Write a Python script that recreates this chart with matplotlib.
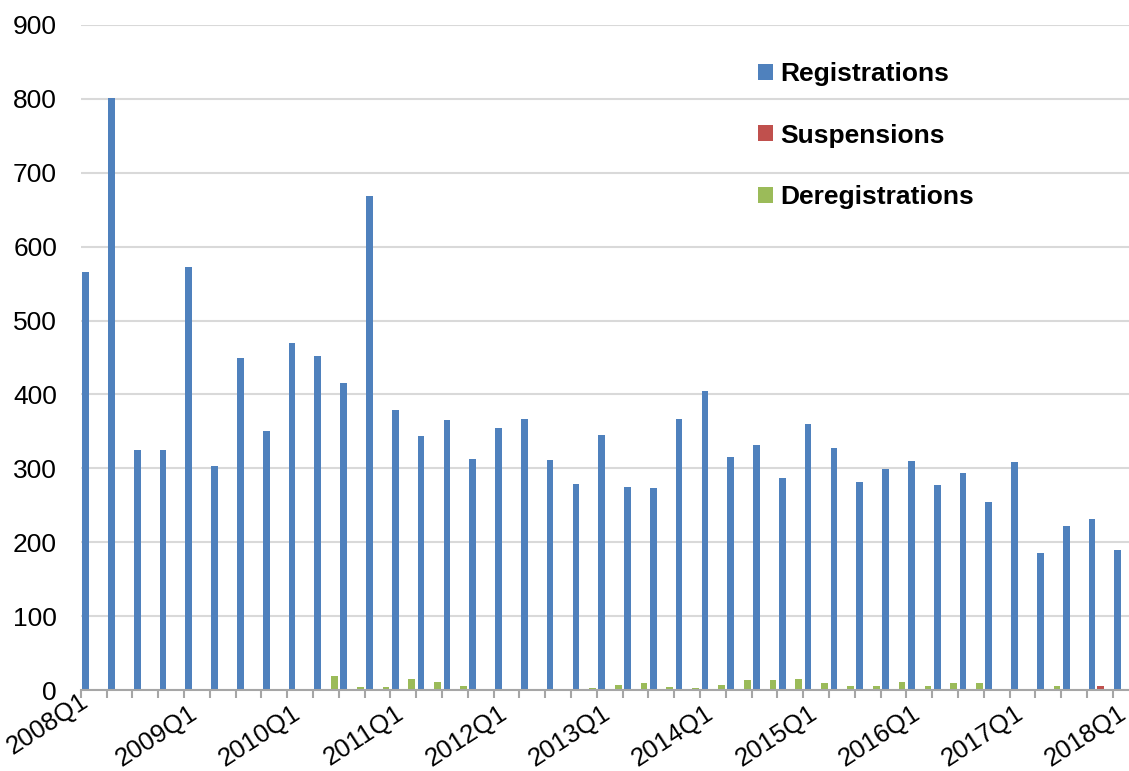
import numpy as np
import matplotlib
matplotlib.use("Agg")
import matplotlib.pyplot as plt
from matplotlib.transforms import ScaledTranslation

plt.rcParams['font.family'] = ['Liberation Sans', 'DejaVu Sans']

quarters = [f"{y}Q{q}" for y in range(2008, 2019) for q in range(1, 5)][:41]

registrations = [566, 801, 325, 325, 573, 303, 450, 351, 470, 452, 415, 669,
                 379, 344, 366, 313, 354, 367, 311, 279, 345, 275, 274, 367,
                 404, 316, 332, 287, 360, 328, 281, 299, 310, 278, 294, 255,
                 308, 185, 222, 232, 190]
suspensions = [0, 0, 0, 0, 0, 0, 0, 0, 0, 0, 2, 0,
               0, 1, 0, 0, 1, 1, 0, 1, 1, 1, 0, 1,
               0, 1, 0, 2, 1, 0, 2, 1, 0, 1, 0, 0,
               1, 0, 0, 5, 0]
deregistrations = [0, 0, 0, 0, 0, 0, 0, 0, 1, 19, 4, 4,
                   15, 11, 5, 0, 2, 0, 2, 3, 7, 9, 4, 3,
                   7, 13, 14, 15, 10, 5, 5, 11, 5, 10, 10, 0,
                   1, 5, 1, 0, 0]

series = [("Registrations", registrations, "#4F81BD"),
          ("Suspensions", suspensions, "#C0504D"),
          ("Deregistrations", deregistrations, "#9BBB59")]

fig = plt.figure(figsize=(11.29, 7.71), dpi=100)
# plot area runs past the right edge like the cropped original
ax = fig.add_axes([80.7 / 1129, 81 / 771, 1058 / 1129, 665 / 771])

x = np.arange(len(quarters))
w = 0.26
offsets = [0.19, 0.51, 0.83]
for (name, vals, col), off in zip(series, offsets):
    ax.bar(x + off, vals, width=w, color=col, label=name, zorder=3)

ax.set_xlim(0, len(quarters))
ax.set_ylim(0, 900)
ax.set_yticks(range(0, 1000, 100))
ax.yaxis.grid(True, color="#D9D9D9", linewidth=1.5, zorder=0)
ax.tick_params(axis="y", length=0, pad=17, labelsize=19)

for s in ["top", "right", "left"]:
    ax.spines[s].set_visible(False)
ax.spines["bottom"].set_color("#A6A6A6")
ax.spines["bottom"].set_linewidth(1.5)
ax.spines["bottom"].set_zorder(4)

ax.set_xticks(np.arange(len(quarters) + 1))
ax.set_xticklabels([])
ax.tick_params(axis="x", which="major", length=6, width=1.5, color="#A6A6A6")
lab_pos = x[::4] + 0.5
ax.set_xticks(lab_pos, minor=True)
ax.set_xticklabels(quarters[::4], minor=True, rotation=33, ha="right",
                   va="top", rotation_mode="anchor", fontsize=18.5)
ax.tick_params(axis="x", which="minor", length=0, pad=8)

# first label is pushed left/up so it stays inside the picture
for i, lab in enumerate(ax.get_xticklabels(minor=True)):
    dx, dy = (-0.08, 0) if i else (-0.14, 0.12)
    lab.set_transform(lab.get_transform() + ScaledTranslation(dx, dy, fig.dpi_scale_trans))

leg = ax.legend(loc="upper left", frameon=False,
                prop={"weight": "bold", "size": 19},
                handlelength=0.56, handleheight=0.56, handletextpad=0.3,
                labelspacing=1.43, borderpad=0, borderaxespad=0)
leg.set_bbox_to_anchor((758 / 1129, 1 - 62 / 771), transform=fig.transFigure)

fig.savefig("out.png", dpi=100)
